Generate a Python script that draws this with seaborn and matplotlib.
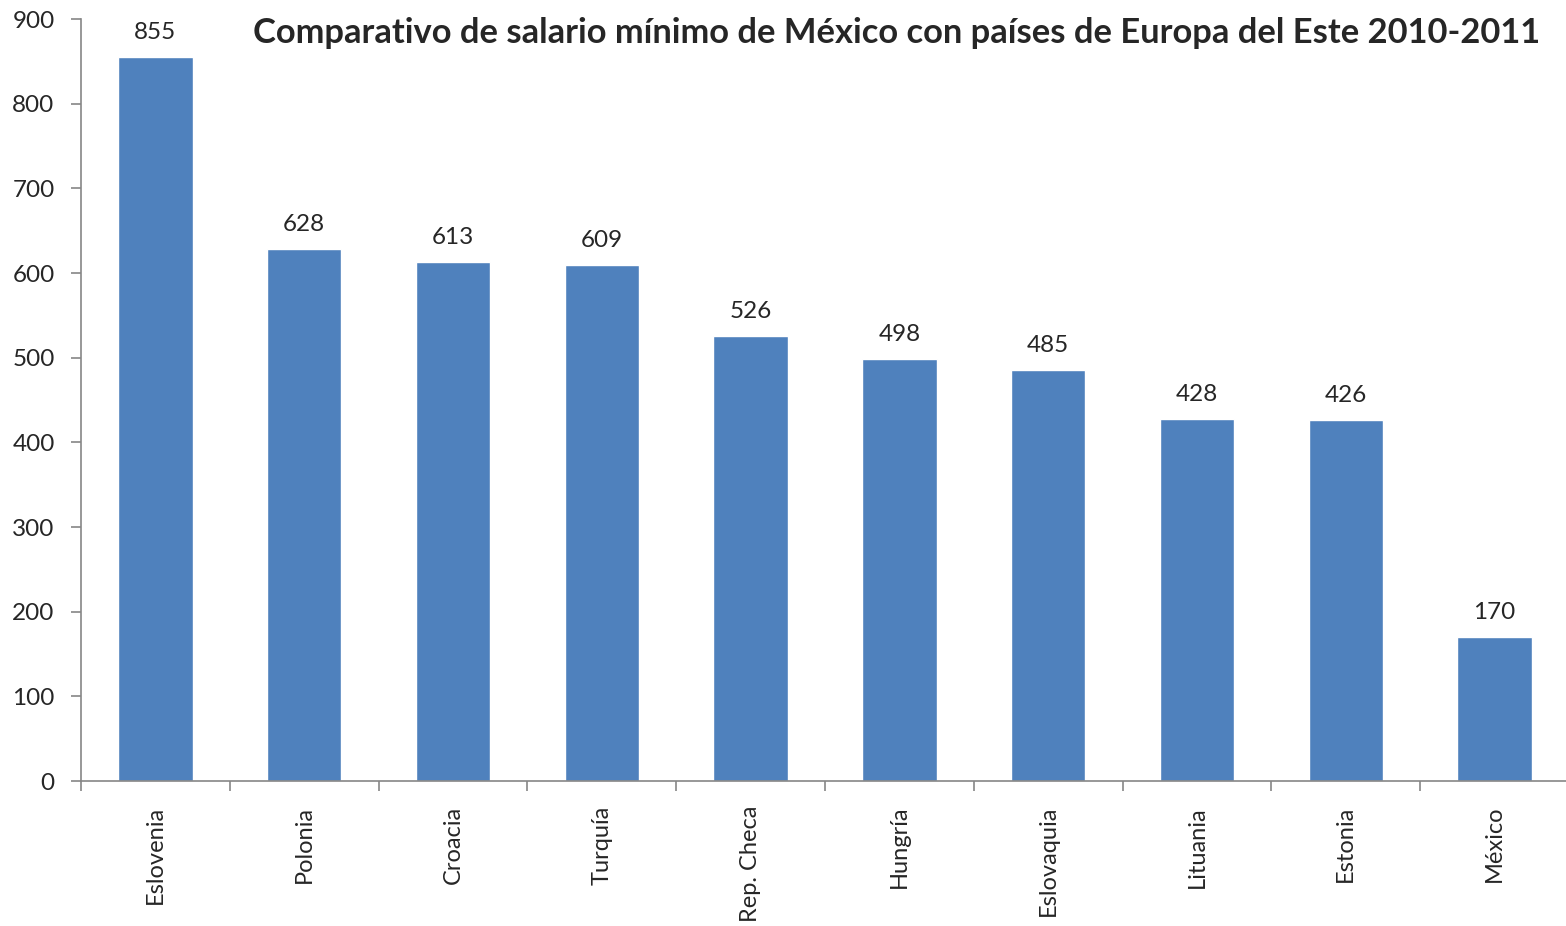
import matplotlib
matplotlib.use('Agg')
import matplotlib.pyplot as plt
import seaborn as sns
import pandas as pd
from matplotlib.ticker import FixedLocator

paises = ['Eslovenia', 'Polonia', 'Croacia', 'Turquía', 'Rep. Checa',
          'Hungría', 'Eslovaquia', 'Lituania', 'Estonia', 'México']
salarios = [855, 628, 613, 609, 526, 498, 485, 428, 426, 170]
titulo = 'Comparativo de salario mínimo de México con países de Europa del Este 2010-2011'

sns.set_style('white')
plt.rcParams['font.family'] = ['Lato', 'DejaVu Sans']

df = pd.DataFrame({'pais': paises, 'salario': salarios})

fig = plt.figure(figsize=(15.66, 9.26), dpi=100)
ax = fig.add_axes([81 / 1566, 145 / 926, 1488 / 1566, (781 - 19) / 926])

sns.barplot(data=df, x='pais', y='salario', color='#4F81BD', width=0.5,
            saturation=1, ax=ax)
ax.bar_label(ax.containers[0], fontsize=17.5, padding=10)

ax.set_ylim(0, 900)
ax.set_xlim(-0.5, len(paises) - 0.5)
ax.set_yticks(range(0, 901, 100))
ax.set_xlabel('')
ax.set_ylabel('')

# ticks between categories, labels centred on bars
ax.xaxis.set_major_locator(FixedLocator([i - 0.5 for i in range(len(paises) + 1)]))
ax.xaxis.set_minor_locator(FixedLocator(list(range(len(paises)))))
ax.set_xticklabels([])
ax.set_xticklabels(paises, minor=True, rotation=90, fontsize=17)
ax.tick_params(axis='x', which='minor', length=0, pad=18)
ax.tick_params(axis='x', which='major', length=7, width=1.2, color='#868686', direction='out')
ax.tick_params(axis='y', length=7, width=1.2, color='#868686', direction='out', labelsize=17.5, pad=12)
ax.tick_params(bottom=True, left=True)

for s in ['top', 'right']:
    ax.spines[s].set_visible(False)
for s in ['left', 'bottom']:
    ax.spines[s].set_color('#868686')
    ax.spines[s].set_linewidth(1.2)

fig.text(1540 / 1566, 1 - 33 / 926, titulo, ha='right', va='center',
         fontsize=24.8, fontweight='bold')

fig.savefig('out.png', dpi=100)
